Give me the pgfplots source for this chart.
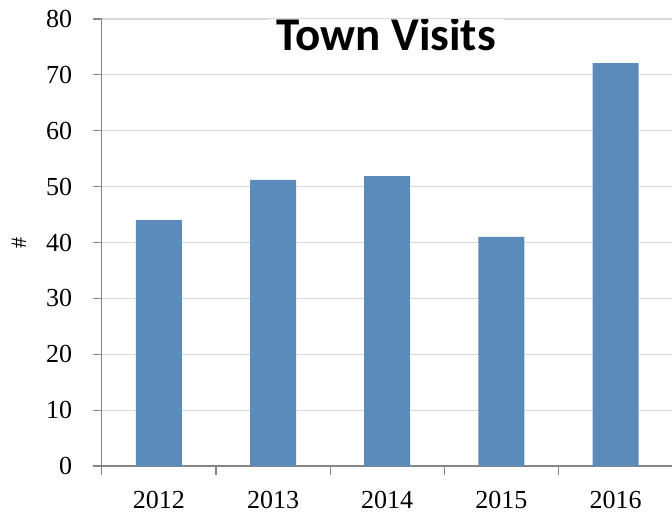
\documentclass[border=0pt]{standalone}
\usepackage{fontspec}
\setmainfont{Liberation Serif}
\newfontfamily\titlefont{Carlito}
\usepackage{pgfplots}
\pgfplotsset{compat=1.18}
\definecolor{barblue}{HTML}{5B8BBA}
\definecolor{axisgray}{HTML}{868686}
\definecolor{gridgray}{HTML}{D9D9D9}
\begin{document}
\begin{tikzpicture}
\begin{axis}[
    scale only axis,
    width=571pt, height=447pt,
    xmin=-0.5, xmax=4.5,
    ymin=0, ymax=80,
    ytick={0,10,...,80},
    xtick={-0.5,0.5,...,4.5},
    xticklabels={},
    extra x ticks={0,1,2,3,4},
    extra x tick labels={2012,2013,2014,2015,2016},
    extra x tick style={major tick length=0pt, grid=none,
        xticklabel style={yshift=-22pt}},
    axis x line*=bottom, axis y line*=left,
    axis line style={axisgray, line width=1.2pt},
    tick style={axisgray, line width=1.2pt},
    tick align=outside,
    major tick length=9pt,
    ymajorgrids, grid style={gridgray, line width=1.2pt},
    tick label style={font=\fontsize{26}{30}\selectfont},
    yticklabel style={xshift=-17pt},
    /pgf/number format/assume math mode=true,
    ylabel={\#},
    ylabel style={font=\fontsize{22}{24}\selectfont,
        at={(axis description cs:-0.145,0.499)}, anchor=center},
    ybar, bar width=46pt, bar shift=0pt,
]
\addplot[fill=barblue, draw=none] coordinates {
(0,44.0) (1,51.2) (2,51.9) (3,41.0) (4,72.1)
};
\node[fill=white, anchor=base, inner xsep=8pt, inner ysep=6pt,
      font=\titlefont\bfseries\fontsize{47}{50}\selectfont]
  at (axis cs:1.99,74.4) {Town Visits};
\end{axis}
\pgfresetboundingbox
\useasboundingbox (-101.7pt,-51pt) rectangle (570.3pt,466pt);
\end{tikzpicture}
\end{document}
